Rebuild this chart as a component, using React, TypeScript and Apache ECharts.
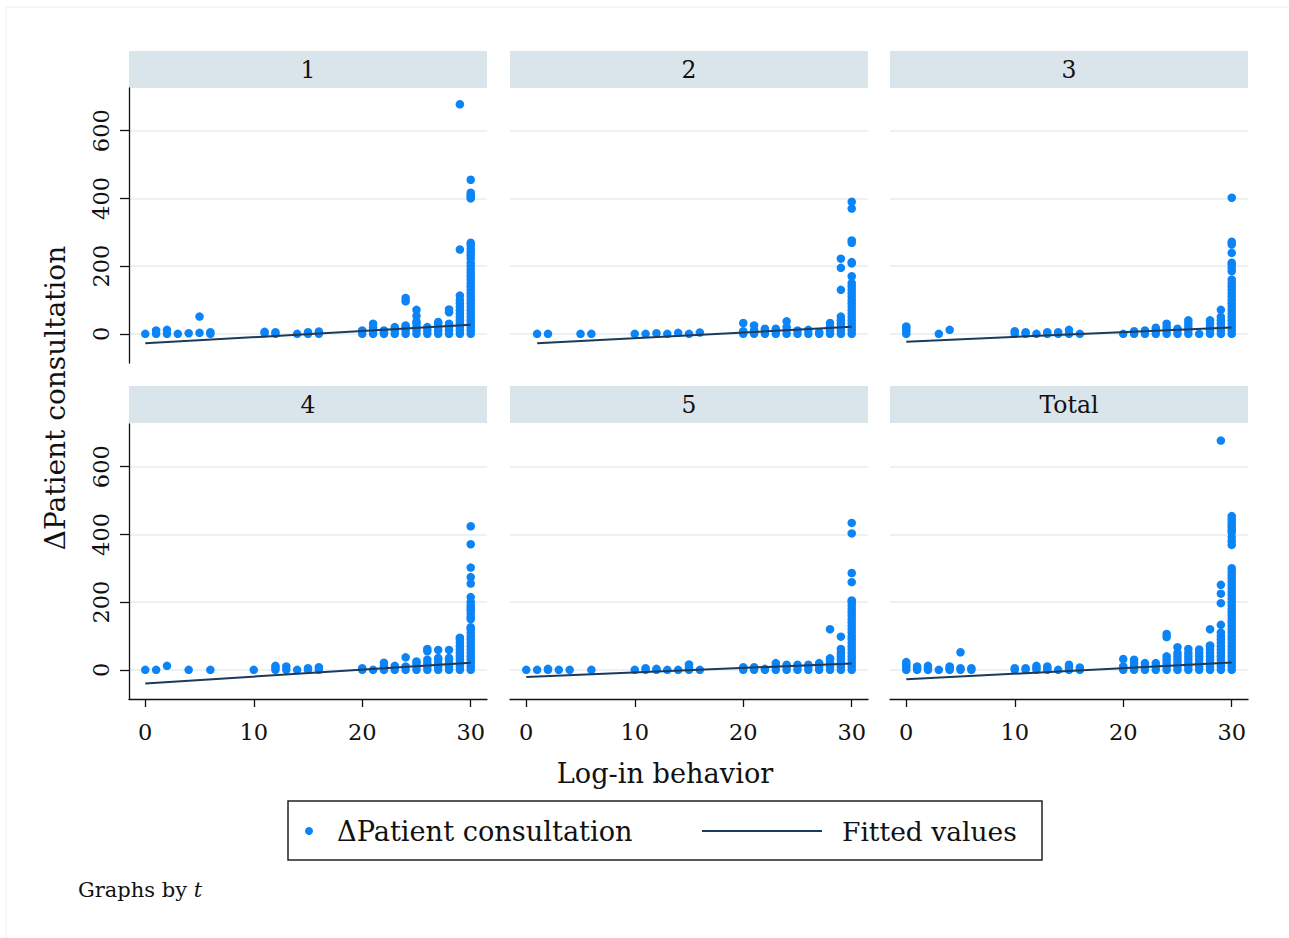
import React, { useEffect, useRef } from "react";
import * as echarts from "echarts";

const panelTitles = ["1", "2", "3", "4", "5", "Total"];
const xTicks = [0, 10, 20, 30];
const yTicks = [0, 200, 400, 600];

type Col = [number, number[]];

const panel1: Col[] = [
  [0, [0]], [1, [0, 10]], [2, [0, 12]], [3, [0]], [4, [2]], [5, [3, 51]], [6, [0, 5]],
  [11, [2, 6]], [12, [0, 5]], [14, [0]], [15, [0, 5]], [16, [0, 7]],
  [20, [0, 10]], [21, [0, 10, 20, 30]], [22, [0, 5, 10]], [23, [0, 10, 20]],
  [24, [0, 10, 20, 25, 96, 106]], [25, [0, 10, 20, 30, 36, 53, 71]], [26, [0, 10, 20]],
  [27, [0, 10, 20, 30, 35]], [28, [0, 10, 20, 30, 64, 72]],
  [29, [0, 10, 20, 30, 40, 50, 60, 70, 80, 90, 100, 113, 249, 678]],
  [30, [0, 10, 20, 30, 40, 50, 60, 70, 80, 90, 100, 110, 120, 130, 140, 150, 160, 170, 180, 190, 200, 210, 222, 232, 242, 252, 262, 269, 400, 405, 410, 417, 455]],
];

const panel2: Col[] = [
  [1, [0]], [2, [0]], [5, [0]], [6, [0]], [10, [0]], [11, [0]], [12, [2]], [13, [0]], [14, [3]], [15, [0]], [16, [4]],
  [20, [0, 8, 32]], [21, [0, 10, 25]], [22, [0, 10, 15]], [23, [0, 10, 15]], [24, [0, 10, 20, 37]],
  [25, [0, 10]], [26, [0, 12]], [27, [0, 5]], [28, [0, 10, 20, 32]],
  [29, [0, 10, 20, 30, 40, 51, 130, 195, 222]],
  [30, [0, 10, 20, 30, 40, 50, 60, 70, 80, 90, 100, 110, 120, 130, 140, 150, 170, 208, 212, 269, 276, 370, 390]],
];

const panel3: Col[] = [
  [0, [0, 8, 16, 22]], [3, [0]], [4, [12]], [10, [0, 8]], [11, [0, 5]], [12, [0]], [13, [0, 5]], [14, [0, 5]], [15, [0, 12]], [16, [0]],
  [20, [0]], [21, [0, 8]], [22, [0, 10]], [23, [0, 10, 18]], [24, [0, 10, 20, 30]], [25, [0, 10, 15]],
  [26, [0, 10, 20, 30, 40]], [27, [0]], [28, [0, 10, 20, 30, 40]], [29, [0, 10, 20, 30, 40, 50, 71]],
  [30, [0, 10, 20, 30, 40, 50, 60, 70, 80, 90, 100, 110, 120, 130, 140, 150, 160, 185, 195, 205, 210, 239, 264, 272, 402]],
];

const panel4: Col[] = [
  [0, [0]], [1, [0]], [2, [12]], [4, [0]], [6, [0]], [10, [0]], [12, [0, 6, 12]], [13, [0, 10]], [14, [0]], [15, [0, 5]], [16, [0, 8]],
  [20, [0, 5]], [21, [0]], [22, [0, 10, 21]], [23, [0, 12]], [24, [0, 10, 37]], [25, [0, 10, 20, 25]],
  [26, [0, 10, 20, 30, 55, 62]], [27, [0, 10, 20, 30, 35, 59]], [28, [0, 10, 20, 30, 35, 59]],
  [29, [0, 10, 20, 30, 40, 50, 60, 70, 80, 90, 95]],
  [30, [0, 10, 20, 30, 40, 50, 60, 70, 80, 90, 100, 110, 120, 126, 150, 156, 166, 176, 183, 190, 200, 215, 255, 274, 302, 371, 424]],
];

const panel5: Col[] = [
  [0, [0]], [1, [0]], [2, [0, 3]], [3, [0]], [4, [0]], [6, [0]], [10, [0]], [11, [0, 5]], [12, [0, 3]], [13, [0]], [14, [0]], [15, [0, 8, 16]], [16, [0]],
  [20, [0, 8]], [21, [0, 8]], [22, [0, 3]], [23, [0, 10, 20]], [24, [0, 10, 15]], [25, [0, 10, 15]], [26, [0, 10, 15]],
  [27, [0, 10, 20]], [28, [0, 10, 20, 30, 34, 120]], [29, [0, 10, 20, 30, 40, 50, 62, 98]],
  [30, [0, 10, 20, 30, 40, 50, 60, 70, 80, 90, 100, 110, 120, 130, 140, 150, 160, 170, 180, 190, 200, 205, 259, 286, 403, 434]],
];

const panelTotal: Col[] = [
  [0, [0, 8, 16, 23]], [1, [0, 5, 10]], [2, [0, 6, 12]], [3, [0]], [4, [0, 5, 10]], [5, [0, 5, 52]], [6, [0, 5]],
  [10, [0, 5]], [11, [0, 5]], [12, [0, 6, 12]], [13, [0, 5, 10]], [14, [0]], [15, [0, 8, 15]], [16, [0, 7]],
  [20, [0, 10, 32]], [21, [0, 10, 20, 30]], [22, [0, 10, 20]], [23, [0, 10, 20]], [24, [0, 10, 20, 30, 40, 97, 106]],
  [25, [0, 10, 20, 30, 40, 50, 67]], [26, [0, 10, 20, 30, 40, 50, 62]], [27, [0, 10, 20, 30, 40, 50, 60]],
  [28, [0, 10, 20, 30, 40, 50, 60, 70, 72, 120]],
  [29, [0, 10, 20, 30, 40, 50, 60, 70, 80, 90, 100, 110, 133, 197, 225, 251, 677]],
  [30, [0, 10, 20, 30, 40, 50, 60, 70, 80, 90, 100, 110, 120, 130, 140, 150, 160, 170, 180, 190, 200, 210, 220, 230, 240, 250, 260, 270, 280, 290, 300, 369, 380, 392, 406, 413, 421, 428, 436, 445, 454]],
];

const fit1 = [[0, -28], [30, 27]];
const fit2 = [[1, -28], [30, 21]];
const fit3 = [[0, -23], [30, 19]];
const fit4 = [[0, -40], [30, 21]];
const fit5 = [[0, -21], [30, 19]];
const fitTotal = [[0, -28], [30, 22]];

const panels = [panel1, panel2, panel3, panel4, panel5, panelTotal];
const fits = [fit1, fit2, fit3, fit4, fit5, fitTotal];

const FONT = '"DejaVu Serif", serif';
const DOT = "#0b84f7";
const NAVY = "#1c3b5a";
const HEADER = "#d9e5eb";
const GRIDC = "#e5eef1";

const colLeft = [129, 510, 890];
const rowTop = [88, 424];
const PW = 358;
const PH = 275;

export default function App() {
  const ref = useRef<HTMLDivElement>(null);
  useEffect(() => {
    if (!ref.current) return;
    const chart = echarts.init(ref.current, undefined, { renderer: "svg" });
    const grids: any[] = [];
    const xAxes: any[] = [];
    const yAxes: any[] = [];
    const series: any[] = [];
    const graphics: any[] = [];

    panels.forEach((cols, i) => {
      const c = i % 3;
      const r = Math.floor(i / 3);
      grids.push({ left: colLeft[c], top: rowTop[r], width: PW, height: PH });
      xAxes.push({
        gridIndex: i,
        type: "value",
        min: -1.5,
        max: 31.5,
        axisLine: { show: r === 1, onZero: false, lineStyle: { color: "#111", width: 1.3 } },
        axisTick: { show: r === 1, length: 8, customValues: xTicks, lineStyle: { color: "#111", width: 1.3 } },
        axisLabel: { show: r === 1, customValues: xTicks, margin: 21, fontSize: 22.5, fontFamily: FONT, color: "#111" },
        splitLine: { show: false },
      });
      yAxes.push({
        gridIndex: i,
        type: "value",
        min: -86,
        max: 726,
        axisLine: { show: c === 0, onZero: false, lineStyle: { color: "#111", width: 1.3 } },
        axisTick: { show: c === 0, length: 9, customValues: yTicks, lineStyle: { color: "#111", width: 1.3 } },
        axisLabel: { show: c === 0, customValues: yTicks, rotate: 90, margin: 17, fontSize: 22.5, fontFamily: FONT, color: "#111" },
        splitLine: { show: true, lineStyle: { color: GRIDC, width: 1.5 } },
      });
      const pts: number[][] = [];
      cols.forEach(([x, ys]) => ys.forEach((y) => pts.push([x, y])));
      series.push({
        type: "scatter",
        name: "ΔPatient consultation",
        xAxisIndex: i,
        yAxisIndex: i,
        data: pts,
        symbolSize: 8.5,
        itemStyle: { color: DOT, opacity: 1 },
        z: 2,
        silent: true,
      });
      series.push({
        type: "line",
        name: "Fitted values",
        xAxisIndex: i,
        yAxisIndex: i,
        data: fits[i],
        symbol: "none",
        showSymbol: false,
        lineStyle: { color: NAVY, width: 2 },
        z: 3,
        silent: true,
      });
      const headerTop = r === 0 ? 51 : 386;
      graphics.push({
        type: "rect",
        shape: { x: colLeft[c], y: headerTop, width: PW, height: 37 },
        style: { fill: HEADER },
        silent: true,
      });
      graphics.push({
        type: "text",
        x: colLeft[c] + PW / 2,
        y: headerTop + 19,
        style: { text: panelTitles[i], fontSize: 23.5, fontFamily: FONT, fill: "#111", align: "center", verticalAlign: "middle" },
        silent: true,
      });
    });

    graphics.push(
      { type: "line", shape: { x1: 6, y1: 7, x2: 1289, y2: 7 }, style: { stroke: "#eeeeee", lineWidth: 1 }, silent: true },
      { type: "line", shape: { x1: 6, y1: 7, x2: 6, y2: 938 }, style: { stroke: "#eeeeee", lineWidth: 1 }, silent: true },
      {
        type: "text",
        x: 55,
        y: 398,
        rotation: Math.PI / 2,
        style: { text: "ΔPatient consultation", fontSize: 28, fontFamily: FONT, fill: "#111", align: "center", verticalAlign: "middle" },
        silent: true,
      },
      {
        type: "text",
        x: 665,
        y: 773,
        style: { text: "Log-in behavior", fontSize: 27.2, fontFamily: FONT, fill: "#111", align: "center", verticalAlign: "middle" },
        silent: true,
      },
      {
        type: "rect",
        shape: { x: 288, y: 801, width: 754, height: 59 },
        style: { fill: "none", stroke: "#222", lineWidth: 1.5 },
        silent: true,
      },
      { type: "circle", shape: { cx: 309, cy: 831, r: 4 }, style: { fill: DOT }, silent: true },
      {
        type: "text",
        x: 337,
        y: 831,
        style: { text: "ΔPatient consultation", fontSize: 27.2, fontFamily: FONT, fill: "#111", align: "left", verticalAlign: "middle" },
        silent: true,
      },
      { type: "line", shape: { x1: 702, y1: 831, x2: 822, y2: 831 }, style: { stroke: NAVY, lineWidth: 2 }, silent: true },
      {
        type: "text",
        x: 842,
        y: 831,
        style: { text: "Fitted values", fontSize: 26.5, fontFamily: FONT, fill: "#111", align: "left", verticalAlign: "middle" },
        silent: true,
      },
      {
        type: "text",
        x: 78,
        y: 890,
        style: {
          text: "Graphs by {it|t}",
          fontSize: 21,
          fontFamily: FONT,
          fill: "#111",
          align: "left",
          verticalAlign: "middle",
          rich: { it: { fontStyle: "italic", fontSize: 21, fontFamily: FONT, fill: "#111" } },
        },
        silent: true,
      }
    );

    chart.setOption({
      animation: false,
      backgroundColor: "#ffffff",
      grid: grids,
      xAxis: xAxes,
      yAxis: yAxes,
      series,
      graphic: { elements: graphics },
    });
    return () => chart.dispose();
  }, []);
  return <div ref={ref} style={{ position: "fixed", left: 0, top: 0, width: 1289, height: 938 }} />;
}
